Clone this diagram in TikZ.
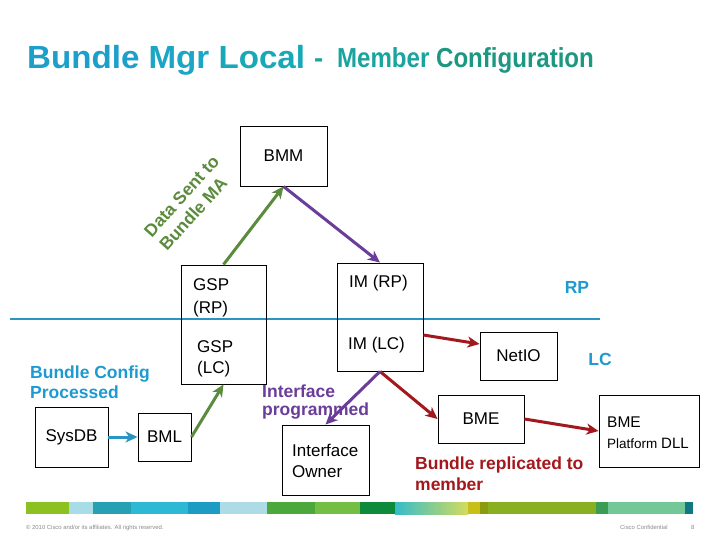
\documentclass[tikz,border=0pt]{standalone}
\usepackage{fontspec}
\setmainfont{Liberation Sans}
\usetikzlibrary{arrows.meta}
\definecolor{tA}{HTML}{1C9FCB}
\definecolor{tB}{HTML}{1AA6C4}
\definecolor{tC}{HTML}{18A9B8}
\definecolor{tD}{HTML}{1AA49E}
\definecolor{tE}{HTML}{1C9882}
\definecolor{lblue}{HTML}{1E9AD2}
\definecolor{lineblue}{HTML}{2A94C2}
\definecolor{dgreen}{HTML}{5B8B3C}
\definecolor{dpurple}{HTML}{6A3D9A}
\definecolor{dred}{HTML}{A3181D}
\definecolor{fgray}{HTML}{8A8A8A}
\definecolor{f1}{HTML}{8DC021}
\definecolor{f2}{HTML}{A8DCE6}
\definecolor{f3}{HTML}{27A0B4}
\definecolor{f4}{HTML}{2DB8D4}
\definecolor{f5}{HTML}{1C9CC4}
\definecolor{f6}{HTML}{ADDCE6}
\definecolor{f7}{HTML}{4CA83C}
\definecolor{f8}{HTML}{74BE44}
\definecolor{f9}{HTML}{0E8A3C}
\definecolor{gA}{HTML}{36BCC8}
\definecolor{gB}{HTML}{D4DC5C}
\definecolor{f10}{HTML}{C8C018}
\definecolor{f11}{HTML}{8C9C10}
\definecolor{f12}{HTML}{88B020}
\definecolor{f13}{HTML}{3C9C54}
\definecolor{f14}{HTML}{74C898}
\definecolor{f15}{HTML}{107884}
\begin{document}
\begin{tikzpicture}[x=1pt,y=-1pt]
\tikzset{
 box/.style={draw=black, line width=0.9pt, inner sep=0pt, font=\fontsize{17}{20}\selectfont},
 txt/.style={inner sep=0pt, font=\fontsize{17}{20}\selectfont, anchor=base west},
 lbl/.style={inner sep=0pt, font=\fontsize{17.5}{20}\selectfont\bfseries, anchor=base west},
 conn/.style={line width=3pt, -{Stealth[length=12pt,width=11pt,inset=3.5pt]}},
 foot/.style={inner sep=0pt, font=\fontsize{5.9}{7}\selectfont, text=fgray, anchor=base west}
}
\useasboundingbox[fill=white] (0,0) rectangle (720,540);

% title
\node[inner sep=0pt, anchor=base west, font=\fontsize{32}{36}\selectfont\bfseries, xscale=1.035] (t1) at (27,68.5)
  {\textcolor{tA}{Bundle} \textcolor{tB}{Mgr} \textcolor{tC}{Local}};
\node[inner sep=0pt, anchor=base west, font=\fontsize{27.5}{32}\selectfont\bfseries, text=tD] (t2) at (314,68)
  {-};
\node[inner sep=0pt, anchor=base west, font=\fontsize{27.5}{32}\selectfont\bfseries, xscale=0.875] (t3) at (337,68)
  {\textcolor{tD}{Member} \textcolor{tE}{Configuration}};

% RP / LC divider
\coordinate (divL) at (10,319);
\coordinate (divR) at (600,319);
\draw[lineblue, line width=2.8pt] (divL) -- (divR);

% boxes
\node[box, minimum width=87pt, minimum height=60pt] (bmm) at (283.5,156) {BMM};
\node[box, minimum width=85pt, minimum height=119pt] (gsp) at (223.5,324.5) {};
\node[box, minimum width=86pt, minimum height=108pt] (im) at (380,317) {};
\node[box, minimum width=77pt, minimum height=48pt] (netio) at (518.5,356) {NetIO};
\node[box, minimum width=86pt, minimum height=48pt] (bme) at (481,419) {BME};
\node[box, minimum width=100pt, minimum height=72pt] (dll) at (649,431) {};
\node[box, minimum width=73pt, minimum height=60pt] (sysdb) at (71.5,437) {SysDB};
\node[box, minimum width=53pt, minimum height=48pt] (bml) at (164.5,437) {BML};
\node[box, minimum width=87pt, minimum height=70pt] (owner) at (325.5,460) {};

% texts inside boxes
\node[txt] (gsp1) at (193,290) {GSP};
\node[txt] (gsp2) at (193,313) {(RP)};
\node[txt] (gsp3) at (197,352.5) {GSP};
\node[txt] (gsp4) at (197,373) {(LC)};
\node[txt] (im1) at (349,287) {IM (RP)};
\node[txt] (im2) at (348,349) {IM (LC)};
\node[txt] (ow1) at (292,456) {Interface};
\node[txt] (ow2) at (292,477) {Owner};
\node[txt, font=\fontsize{15.5}{18}\selectfont] (dll1) at (607,427) {BME};
\node[txt, font=\fontsize{13.5}{16}\selectfont] (dll2) at (607,448) {Platform {\fontsize{15}{18}\selectfont DLL}};

% coloured labels
\node[inner sep=0pt, font=\fontsize{17.5}{20.5}\selectfont\bfseries, text=dgreen, rotate=48,
      align=left, anchor=north west] (ds) at (142.5,230) {Data Sent to\\Bundle MA};
\node[lbl, text=lblue] (bc1) at (30,378) {Bundle Config};
\node[lbl, text=lblue] (bc2) at (30,398) {Processed};
\node[lbl, text=dpurple] (ip1) at (262,397) {Interface};
\node[lbl, text=dpurple] (ip2) at (262,415) {programmed};
\node[lbl, text=dred] (br1) at (415,469) {Bundle replicated to};
\node[lbl, text=dred] (br2) at (415,490) {member};
\node[lbl, text=lblue, anchor=base] (rp) at (577,293) {RP};
\node[lbl, text=lblue, anchor=base] (lc) at (600,365) {LC};

% connectors
\draw[conn, dgreen] (gsp.north) -- (bmm.south);
\draw[conn, dpurple] (bmm.south) -- (im.north);
\draw[conn, dgreen] (bml.east) -- (gsp.south);
\draw[conn, lineblue] (sysdb.east) -- (bml.west);
\draw[conn, dred] ([yshift=-18pt]im.east) -- ([yshift=12pt]netio.west);
\draw[conn, dred] (im.south) -- (bme.west);
\draw[conn, dpurple] (im.south) -- (owner.north);
\draw[conn, dred] (bme.east) -- (dll.west);

% footer bar
\fill[f1] (26,502) rectangle (69,514);
\fill[f2] (69,502) rectangle (93,514);
\fill[f3] (93,502) rectangle (131,514);
\fill[f4] (131,502) rectangle (188,514);
\fill[f5] (188,502) rectangle (220,514);
\fill[f6] (220,502) rectangle (267,514);
\fill[f7] (267,502) rectangle (315,514);
\fill[f8] (315,502) rectangle (360,514);
\fill[f9] (360,502) rectangle (395,514);
\shade[left color=gA, right color=gB] (395,502) rectangle (468,514);
\fill[f10] (468,502) rectangle (480,514);
\fill[f11] (480,502) rectangle (488,514);
\fill[f12] (488,502) rectangle (596,514);
\fill[f13] (596,502) rectangle (608,514);
\fill[f14] (608,502) rectangle (685,514);
\fill[f15] (685,502) rectangle (693,514);

\node[foot] (copy) at (26,529) {© 2010 Cisco and/or its affiliates. All rights reserved.};
\node[foot] (conf) at (620,529) {Cisco Confidential};
\node[foot] (pg) at (691,529) {8};
\end{tikzpicture}
\end{document}
